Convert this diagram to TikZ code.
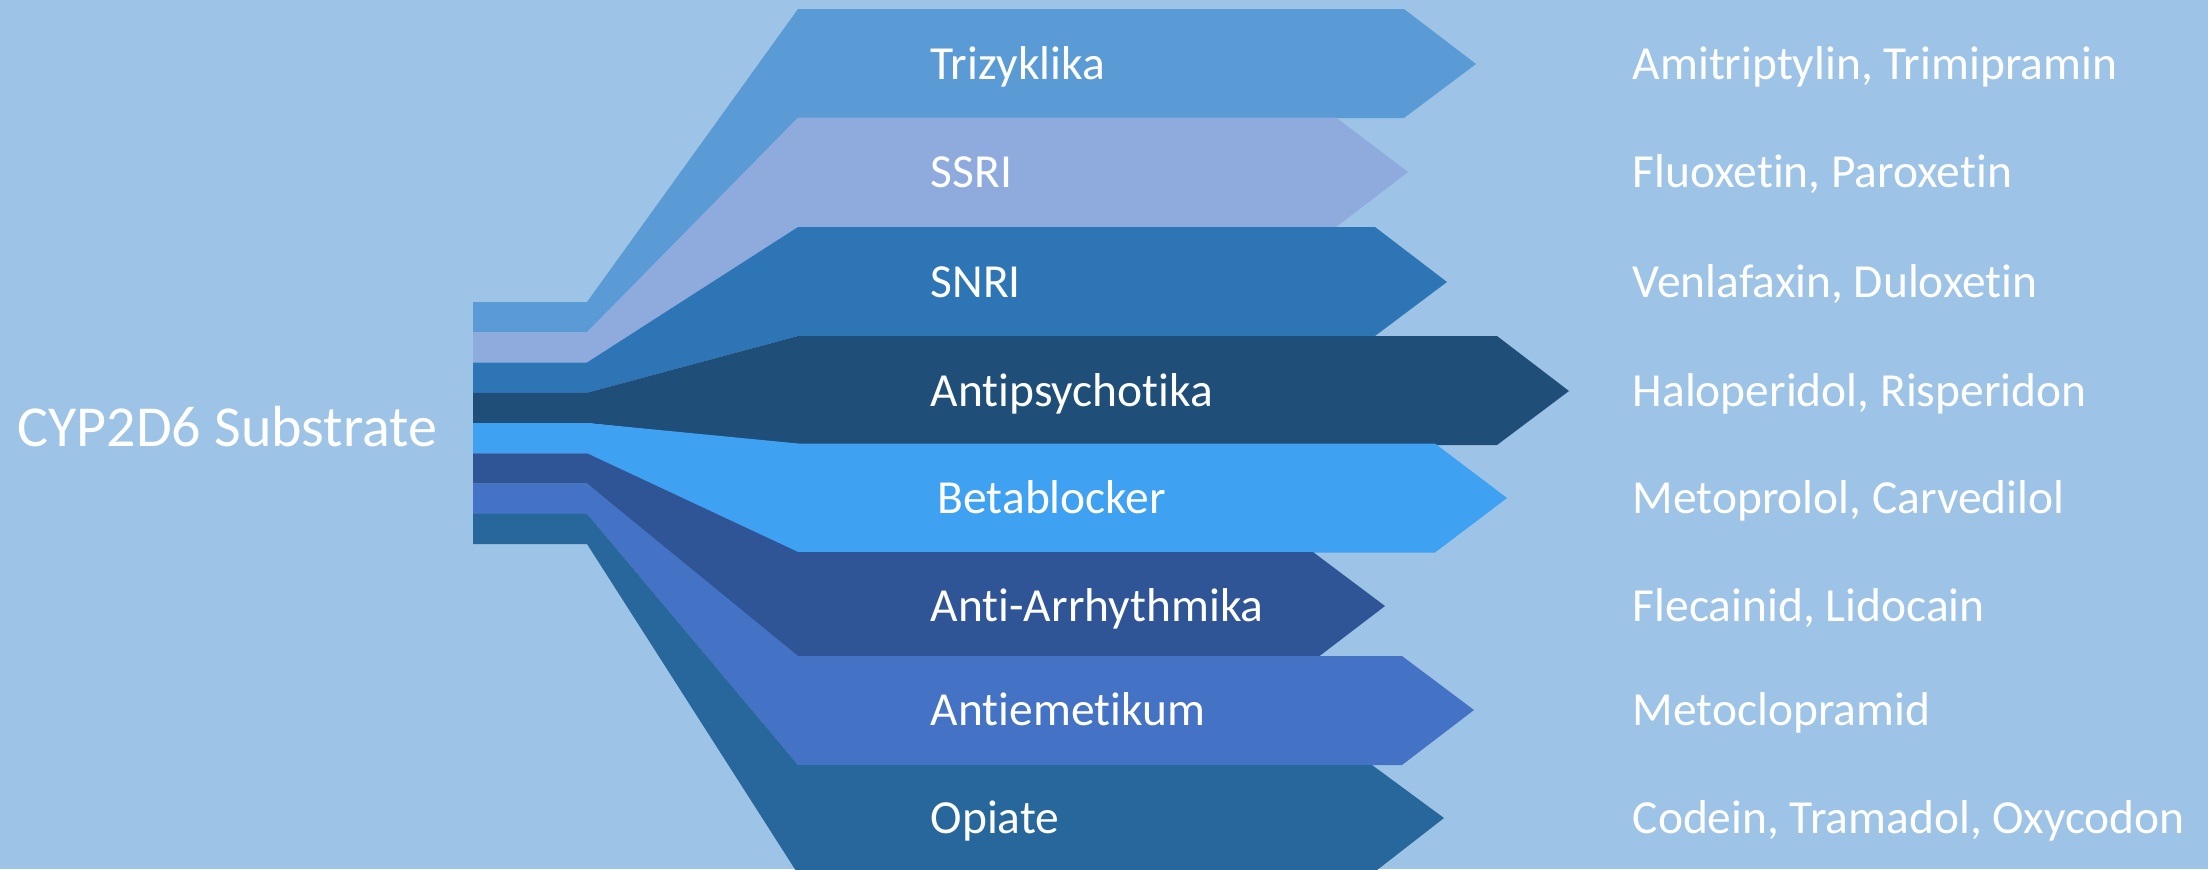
\documentclass[tikz,border=0pt]{standalone}
\usepackage{fontspec}
\setmainfont[Ligatures=NoCommon]{Carlito}
\usetikzlibrary{calc,positioning}

\definecolor{bgblue}{HTML}{9DC3E6}
\definecolor{trizblue}{HTML}{5B9BD5}
\definecolor{ssriblue}{HTML}{8FAADC}
\definecolor{snriblue}{HTML}{2E75B6}
\definecolor{psychblue}{HTML}{1F4E79}
\definecolor{betablue}{HTML}{3FA1F1}
\definecolor{arrhyblue}{HTML}{2F5597}
\definecolor{emetblue}{HTML}{4472C4}
\definecolor{opiblue}{HTML}{28679C}

\begin{document}
\begin{tikzpicture}[x=0.01cm,y=-0.01cm,line join=miter]

      \fill[bgblue] (0,0) rectangle (2208,869);
      \useasboundingbox (0,0) rectangle (2208,869);

      \tikzstyle{mystripe}=[draw=none];
      \tikzstyle{mylabel}=[inner sep=0pt, anchor=base west, text=white, font=\fontsize{13.5pt}{16pt}\selectfont];
      \tikzstyle{mytitle}=[inner sep=0pt, anchor=base west, text=white, font=\fontsize{16.5pt}{19pt}\selectfont];

      % stub -> band -> arrow, one shape per class
      \fill[mystripe,trizblue]  (473,302) -- (587,302) -- (798,9) -- (1404,9) -- (1476,64) -- (1404,118) -- (798,118) -- (587,332.25) -- (473,332.25) -- cycle;
      \fill[mystripe,ssriblue]  (473,332.25) -- (587,332.25) -- (798,117.5) -- (1336,117.5) -- (1408,172) -- (1336,227) -- (798,227) -- (587,362.5) -- (473,362.5) -- cycle;
      \fill[mystripe,snriblue]  (473,362.5) -- (587,362.5) -- (798,227) -- (1375,227) -- (1447,282) -- (1375,336) -- (798,336) -- (587,392.75) -- (473,392.75) -- cycle;
      \fill[mystripe,psychblue] (473,392.75) -- (587,392.75) -- (798,336) -- (1497,336) -- (1569,391) -- (1497,445) -- (798,445) -- (587,423) -- (473,423) -- cycle;
      \fill[mystripe,betablue]  (473,423) -- (587,423) -- (798,443.5) -- (1435,443.5) -- (1507,498) -- (1435,552.5) -- (798,552.5) -- (587,453.25) -- (473,453.25) -- cycle;
      \fill[mystripe,arrhyblue] (473,453.25) -- (587,453.25) -- (798,552) -- (1313,552) -- (1385,606) -- (1313,661) -- (798,661) -- (587,483.5) -- (473,483.5) -- cycle;
      \fill[mystripe,emetblue]  (473,483.5) -- (587,483.5) -- (798,656) -- (1402,656) -- (1474,710) -- (1402,765) -- (798,765) -- (587,513.75) -- (473,513.75) -- cycle;
      \fill[mystripe,opiblue]   (473,513.75) -- (587,513.75) -- (798,765) -- (1372,765) -- (1444,818) -- (1372,874) -- (798,874) -- (587,544) -- (473,544) -- cycle;

      \node[mytitle] (substrate) at (17,446) {CYP2D6 Substrate};

      \node[mylabel] (trizyklika) at (930,79.5)  {Trizyklika};
      \node[mylabel] (ssri)       at (930,187.5) {SSRI};
      \node[mylabel] (snri)       at (930,297.5) {SNRI};
      \node[mylabel] (psych)      at (930,406.5) {Antipsychotika};
      \node[mylabel] (beta)       at (937,513.5) {Betablocker};
      \node[mylabel] (arrhy)      at (930,621.5) {Anti-Arrhythmika};
      \node[mylabel] (emet)       at (930,725.5) {Antiemetikum};
      \node[mylabel] (opiate)     at (930,833.5) {Opiate};

      \node[mylabel] (trizdrugs)  at (1632,79.5)  {Amitriptylin, Trimipramin};
      \node[mylabel] (ssridrugs)  at (1632,187.5) {Fluoxetin, Paroxetin};
      \node[mylabel] (snridrugs)  at (1632,297.5) {Venlafaxin, Duloxetin};
      \node[mylabel] (psychdrugs) at (1632,406.5) {Haloperidol, Risperidon};
      \node[mylabel] (betadrugs)  at (1632,513.5) {Metoprolol, Carvedilol};
      \node[mylabel] (arrhydrugs) at (1632,621.5) {Flecainid, Lidocain};
      \node[mylabel] (emetdrugs)  at (1632,725.5) {Metoclopramid};
      \node[mylabel] (opidrugs)   at (1632,833.5) {Codein, Tramadol, Oxycodon};
    \end{tikzpicture}
\end{document}
